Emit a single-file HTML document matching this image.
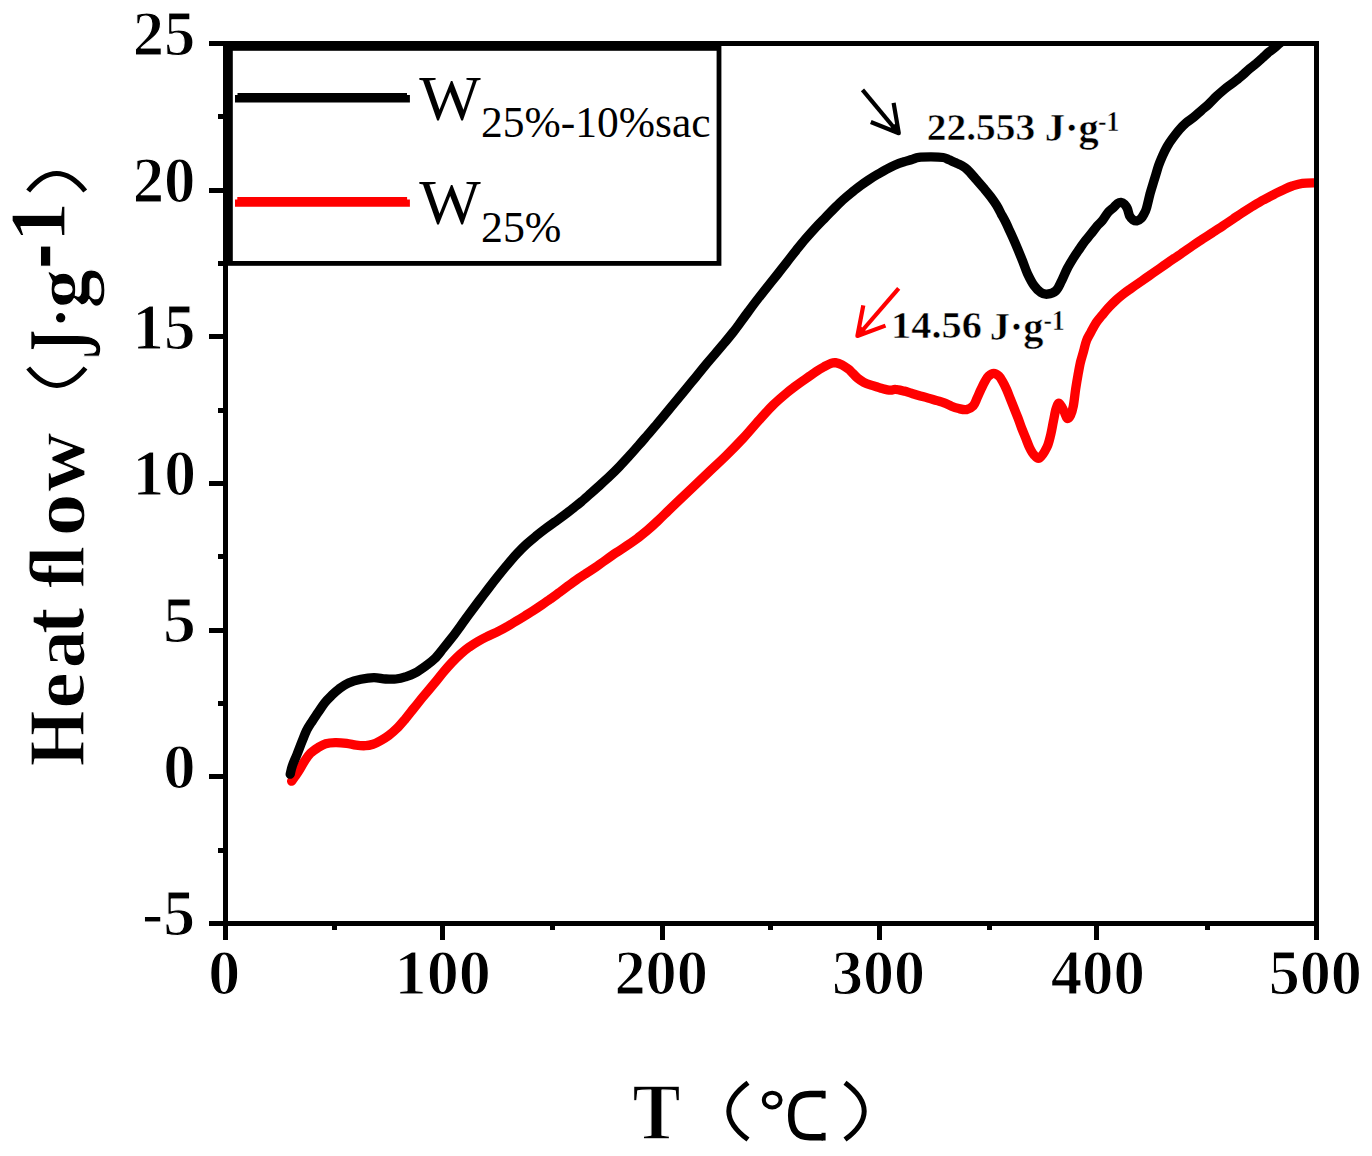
<!DOCTYPE html>
<html><head><meta charset="utf-8"><title>Heat flow chart</title>
<style>
html,body{margin:0;padding:0;background:#fff;width:1372px;height:1156px;overflow:hidden;}
svg{display:block;}
text{font-family:"Liberation Serif",serif;}
</style></head>
<body>
<svg width="1372" height="1156" viewBox="0 0 1372 1156">
<rect width="1372" height="1156" fill="#fff"/>
<clipPath id="pc"><rect x="228" y="46" width="1086" height="875"/></clipPath>
<path d="M291.6 781.2 C292.2 780.4 293.8 778.3 295.0 776.5 C296.2 774.7 297.4 773.1 299.0 770.5 C300.6 767.9 302.8 763.8 304.7 760.9 C306.6 758.0 308.2 755.5 310.4 753.3 C312.6 751.1 315.6 749.2 318.1 747.6 C320.7 746.0 322.9 744.5 325.7 743.7 C328.5 742.9 331.7 742.7 335.2 742.6 C338.7 742.5 343.1 742.9 346.6 743.3 C350.1 743.7 352.9 744.8 356.1 745.2 C359.3 745.6 362.8 745.9 365.6 745.7 C368.4 745.6 370.5 745.1 373.0 744.3 C375.5 743.5 377.8 742.2 380.4 740.7 C383.0 739.2 385.9 737.6 388.7 735.5 C391.5 733.4 394.2 731.1 397.0 728.3 C399.8 725.5 402.5 722.2 405.3 718.9 C408.1 715.6 410.8 712.0 413.6 708.5 C416.4 705.0 418.4 702.5 421.9 698.2 C425.4 694.0 431.0 687.3 434.6 683.0 C438.2 678.7 440.4 675.6 443.3 672.2 C446.2 668.8 449.0 665.6 451.9 662.5 C454.8 659.5 457.7 656.6 460.6 654.0 C463.5 651.5 466.3 649.2 469.2 647.1 C472.1 645.1 475.0 643.2 477.9 641.5 C480.8 639.8 483.0 638.6 486.5 636.9 C490.0 635.1 495.2 632.9 498.7 631.1 C502.2 629.4 504.4 628.2 507.3 626.5 C510.2 624.9 513.1 623.0 516.0 621.3 C518.9 619.6 521.7 617.9 524.6 616.1 C527.5 614.3 530.4 612.6 533.3 610.7 C536.2 608.8 539.0 606.9 541.9 604.9 C544.8 602.9 547.7 600.9 550.6 598.8 C553.5 596.8 556.3 594.7 559.2 592.6 C562.1 590.4 565.0 588.2 567.9 586.0 C570.8 583.9 573.6 581.8 576.5 579.8 C579.4 577.8 582.1 576.1 585.2 574.0 C588.4 572.0 592.0 569.7 595.4 567.4 C598.8 565.0 602.3 562.4 605.8 560.0 C609.3 557.5 612.8 555.0 616.2 552.7 C619.7 550.3 623.0 548.3 626.5 545.9 C630.0 543.6 633.4 541.2 636.9 538.7 C640.4 536.1 643.8 533.3 647.3 530.4 C650.8 527.4 654.2 524.3 657.7 521.0 C661.2 517.8 664.6 514.3 668.1 510.9 C671.6 507.5 674.6 504.6 678.5 500.8 C682.4 497.1 686.6 493.2 691.7 488.4 C696.8 483.6 703.2 477.4 709.0 471.9 C714.8 466.4 720.5 461.2 726.3 455.5 C732.1 449.8 737.8 444.0 743.6 437.8 C749.4 431.5 756.0 423.5 760.9 418.1 C765.8 412.6 768.6 409.4 773.0 405.1 C777.4 400.9 783.7 395.5 787.3 392.5 C790.9 389.4 792.2 388.6 794.6 386.8 C797.0 385.0 799.5 383.2 801.9 381.5 C804.3 379.8 806.8 378.1 809.2 376.4 C811.6 374.7 814.0 372.9 816.4 371.3 C818.8 369.7 821.3 368.3 823.7 367.0 C826.1 365.7 829.0 364.0 831.0 363.3 C833.0 362.6 833.6 362.4 835.4 362.6 C837.2 362.9 839.8 363.7 842.0 364.8 C844.2 365.9 846.7 367.8 848.5 369.2 C850.3 370.6 851.4 372.1 852.9 373.5 C854.4 374.9 855.5 376.4 857.3 377.9 C859.1 379.4 861.5 381.1 863.8 382.3 C866.1 383.5 868.7 384.4 871.1 385.2 C873.5 386.0 876.5 386.8 878.4 387.4 C880.3 388.0 880.3 388.1 882.3 388.6 C884.3 389.1 888.1 390.1 890.3 390.2 C892.5 390.3 893.1 389.2 895.4 389.4 C897.7 389.5 901.5 390.5 904.2 391.1 C906.9 391.8 909.0 392.6 911.4 393.3 C913.8 394.0 915.9 394.7 918.7 395.5 C921.5 396.3 925.2 397.2 928.2 398.1 C931.2 399.0 934.3 399.8 937.0 400.6 C939.7 401.4 941.8 401.9 944.2 402.8 C946.6 403.7 949.1 405.2 951.5 406.2 C953.9 407.2 956.3 408.0 958.8 408.6 C961.3 409.2 964.1 410.1 966.5 409.6 C968.9 409.1 971.5 407.6 973.3 405.7 C975.1 403.8 975.8 400.8 977.1 398.1 C978.4 395.4 979.6 392.2 980.9 389.5 C982.2 386.8 983.4 384.1 984.7 381.9 C986.0 379.7 987.0 377.6 988.5 376.2 C990.0 374.8 992.0 373.3 993.8 373.3 C995.5 373.3 997.5 374.8 999.0 376.2 C1000.5 377.6 1001.5 379.7 1002.8 381.9 C1004.1 384.1 1005.3 386.6 1006.6 389.5 C1007.9 392.4 1009.1 395.8 1010.4 399.0 C1011.7 402.2 1012.9 405.3 1014.2 408.5 C1015.5 411.7 1016.7 414.7 1018.0 418.0 C1019.3 421.3 1020.5 425.2 1021.8 428.5 C1023.1 431.8 1024.4 434.8 1025.7 438.0 C1027.0 441.2 1028.1 444.6 1029.5 447.5 C1030.9 450.4 1032.5 453.4 1034.2 455.1 C1035.9 456.9 1037.4 459.3 1039.5 458.0 C1041.6 456.7 1045.0 451.2 1046.9 447.3 C1048.8 443.4 1049.7 438.6 1050.8 434.3 C1051.9 430.0 1052.5 425.5 1053.4 421.3 C1054.3 417.1 1055.0 412.0 1056.0 409.0 C1057.0 406.0 1057.9 402.9 1059.2 403.2 C1060.5 403.5 1062.5 408.4 1063.8 410.9 C1065.1 413.4 1065.9 417.4 1067.0 418.2 C1068.1 419.0 1069.5 417.5 1070.5 415.5 C1071.5 413.5 1072.4 410.6 1073.3 406.1 C1074.2 401.7 1074.9 394.0 1075.7 388.8 C1076.5 383.6 1077.2 379.4 1078.0 375.0 C1078.8 370.6 1079.5 366.5 1080.4 362.5 C1081.4 358.5 1082.7 354.5 1083.7 350.8 C1084.7 347.1 1085.4 343.5 1086.6 340.4 C1087.8 337.3 1089.3 335.1 1090.9 332.1 C1092.5 329.1 1094.4 325.3 1096.2 322.6 C1098.0 319.9 1099.6 318.3 1101.7 315.7 C1103.8 313.2 1106.6 309.8 1109.0 307.2 C1111.4 304.6 1113.8 302.2 1116.2 300.0 C1118.6 297.8 1121.1 295.8 1123.5 293.9 C1125.9 292.0 1128.4 290.3 1130.8 288.6 C1133.2 286.9 1135.7 285.2 1138.1 283.5 C1140.5 281.8 1143.0 280.1 1145.4 278.4 C1147.8 276.7 1150.3 275.0 1152.7 273.3 C1155.1 271.6 1157.6 269.9 1160.0 268.2 C1162.4 266.5 1164.9 264.8 1167.3 263.1 C1169.7 261.4 1172.1 259.8 1174.5 258.2 C1176.9 256.5 1178.8 255.3 1181.8 253.2 C1184.8 251.2 1188.8 248.3 1192.2 246.0 C1195.6 243.6 1199.0 241.4 1202.4 239.1 C1205.8 236.9 1209.3 234.7 1212.7 232.5 C1216.1 230.2 1219.5 228.1 1222.9 225.8 C1226.3 223.6 1229.7 221.3 1233.1 219.0 C1236.5 216.7 1239.9 214.3 1243.3 212.1 C1246.7 209.9 1250.1 207.7 1253.5 205.7 C1256.9 203.7 1260.3 201.7 1263.7 199.8 C1267.1 198.0 1270.5 196.2 1273.9 194.5 C1277.3 192.8 1281.0 190.8 1284.1 189.4 C1287.1 188.0 1289.2 187.0 1292.2 186.0 C1295.2 185.0 1298.4 183.8 1302.4 183.3 C1306.4 182.8 1313.7 182.9 1316.0 182.8" fill="none" stroke="#f00" stroke-width="9.3" stroke-linejoin="round" stroke-linecap="round" clip-path="url(#pc)"/>
<path d="M290.2 774.2 C290.6 772.8 291.2 768.9 292.4 765.6 C293.5 762.3 295.5 758.2 297.1 754.2 C298.7 750.2 300.3 745.8 301.9 741.8 C303.5 737.8 304.9 733.9 306.6 730.4 C308.4 726.9 310.5 723.9 312.4 720.9 C314.3 717.9 316.1 715.4 318.1 712.4 C320.2 709.4 322.5 705.6 324.7 702.8 C326.9 700.0 329.0 698.0 331.4 695.7 C333.8 693.4 336.1 691.1 339.0 689.0 C341.9 686.9 344.9 684.6 348.5 683.0 C352.1 681.4 356.6 680.1 360.9 679.2 C365.1 678.3 369.9 677.6 374.0 677.6 C378.1 677.6 381.9 678.8 385.6 679.0 C389.3 679.2 392.7 679.4 396.0 679.0 C399.3 678.6 402.2 677.9 405.3 676.9 C408.4 675.9 411.2 675.1 414.7 673.2 C418.1 671.3 422.7 668.1 426.0 665.7 C429.3 663.3 431.7 661.7 434.6 658.8 C437.5 655.9 440.4 651.9 443.3 648.4 C446.2 644.9 449.0 641.4 451.9 637.7 C454.8 633.9 457.7 629.9 460.6 625.9 C463.5 622.0 466.2 618.1 469.2 614.0 C472.2 610.0 475.4 605.7 478.6 601.4 C481.8 597.2 485.1 592.8 488.3 588.6 C491.5 584.4 494.6 580.4 497.8 576.4 C501.0 572.4 504.2 568.4 507.4 564.7 C510.6 560.9 513.7 557.2 516.9 553.8 C520.1 550.4 523.2 547.2 526.4 544.3 C529.6 541.3 532.7 538.8 535.9 536.2 C539.1 533.6 542.2 531.2 545.4 528.8 C548.6 526.4 551.7 524.2 554.9 521.9 C558.1 519.6 561.2 517.4 564.4 515.0 C567.6 512.6 571.2 509.9 574.0 507.6 C576.8 505.4 578.6 504.0 581.4 501.6 C584.2 499.2 587.7 496.1 590.9 493.3 C594.1 490.5 597.2 487.6 600.4 484.7 C603.6 481.8 606.8 478.9 610.0 475.9 C613.2 472.8 616.3 469.7 619.5 466.4 C622.7 463.1 625.8 459.7 629.0 456.2 C632.2 452.7 635.3 449.1 638.5 445.5 C641.7 441.9 644.8 438.2 648.0 434.5 C651.2 430.8 654.3 427.3 657.5 423.4 C660.7 419.6 664.2 415.4 667.4 411.5 C670.6 407.5 673.7 403.7 676.9 399.9 C680.1 396.1 683.2 392.3 686.4 388.5 C689.6 384.7 692.7 380.7 695.9 376.9 C699.1 373.0 702.2 369.0 705.4 365.2 C708.6 361.4 711.8 357.7 715.0 354.0 C718.2 350.3 721.3 346.6 724.5 342.8 C727.7 339.0 731.6 334.1 734.0 331.1 C736.4 328.1 736.4 327.9 738.8 324.7 C741.2 321.4 745.1 315.9 748.3 311.6 C751.5 307.3 754.6 303.1 757.8 299.0 C761.0 294.9 764.2 290.8 767.4 286.8 C770.6 282.8 773.7 279.0 776.9 275.0 C780.1 270.9 783.2 266.9 786.4 262.8 C789.6 258.8 792.7 254.6 795.9 250.7 C799.1 246.7 802.2 242.7 805.4 239.0 C808.6 235.3 811.6 231.9 814.9 228.3 C818.2 224.7 822.2 220.7 825.4 217.4 C828.6 214.2 831.1 211.5 834.0 208.6 C836.9 205.7 839.8 202.7 842.7 200.1 C845.6 197.5 848.4 195.1 851.3 192.8 C854.2 190.4 857.1 188.2 860.0 186.0 C862.9 183.9 865.7 181.9 868.6 180.0 C871.5 178.1 874.4 176.3 877.3 174.6 C880.2 172.9 883.0 171.2 885.9 169.6 C888.8 168.1 891.7 166.6 894.6 165.3 C897.5 164.0 900.3 162.9 903.2 162.0 C906.1 161.0 909.3 160.3 911.9 159.5 C914.5 158.7 915.6 157.7 918.8 157.3 C922.0 156.9 927.0 156.9 931.0 156.9 C935.0 156.9 940.1 157.0 943.1 157.5 C946.1 158.0 947.1 159.0 949.1 159.8 C951.1 160.7 953.1 161.7 955.1 162.6 C957.1 163.5 959.2 164.2 961.2 165.3 C963.2 166.5 964.8 167.3 967.2 169.5 C969.6 171.7 972.7 175.5 975.4 178.6 C978.1 181.7 981.1 185.0 983.6 188.0 C986.1 191.0 988.4 193.7 990.6 196.6 C992.8 199.5 994.8 202.4 996.6 205.3 C998.4 208.2 999.7 211.0 1001.2 213.9 C1002.8 216.8 1004.5 219.8 1005.9 222.6 C1007.3 225.4 1008.3 228.0 1009.5 230.5 C1010.7 233.0 1011.5 234.7 1012.9 237.8 C1014.3 240.9 1016.2 245.3 1017.8 249.2 C1019.4 253.1 1021.1 257.3 1022.7 261.3 C1024.3 265.3 1025.5 269.4 1027.4 273.4 C1029.3 277.4 1031.8 282.4 1034.0 285.5 C1036.2 288.6 1038.5 290.9 1040.7 292.3 C1042.9 293.8 1044.8 294.4 1047.3 294.2 C1049.8 293.9 1053.5 293.0 1055.9 290.8 C1058.3 288.6 1059.7 284.6 1061.6 280.9 C1063.5 277.2 1065.2 272.5 1067.3 268.5 C1069.4 264.5 1072.0 260.4 1074.0 257.1 C1076.0 253.9 1077.7 251.6 1079.5 249.0 C1081.3 246.4 1082.8 244.0 1084.7 241.5 C1086.6 239.0 1088.6 236.8 1090.7 234.2 C1092.8 231.6 1095.2 228.2 1097.1 226.0 C1099.0 223.8 1100.3 223.2 1102.1 220.9 C1103.9 218.7 1106.1 214.7 1108.0 212.5 C1109.9 210.3 1111.9 209.1 1113.5 207.6 C1115.1 206.1 1116.2 204.4 1117.5 203.5 C1118.8 202.6 1119.8 202.2 1121.0 202.3 C1122.2 202.4 1123.5 203.2 1124.5 204.2 C1125.5 205.2 1126.4 206.5 1127.3 208.5 C1128.2 210.5 1128.8 214.3 1129.7 216.2 C1130.7 218.1 1131.8 219.0 1133.0 219.8 C1134.2 220.6 1135.6 221.1 1136.9 220.9 C1138.2 220.7 1139.8 219.7 1141.0 218.5 C1142.2 217.3 1143.1 215.7 1144.0 214.0 C1144.9 212.3 1145.4 211.8 1146.4 208.5 C1147.4 205.2 1148.9 198.2 1149.9 194.3 C1151.0 190.4 1151.7 188.0 1152.7 184.8 C1153.7 181.6 1154.7 178.3 1155.7 175.1 C1156.7 171.9 1157.5 168.8 1158.6 165.6 C1159.7 162.4 1161.0 159.3 1162.4 156.1 C1163.8 152.9 1165.4 149.6 1167.1 146.6 C1168.8 143.6 1170.7 140.8 1172.8 138.0 C1174.9 135.2 1177.3 132.0 1179.5 129.5 C1181.7 127.0 1183.8 124.9 1186.2 122.8 C1188.6 120.7 1191.3 119.2 1193.8 117.1 C1196.3 115.0 1198.9 112.6 1201.4 110.4 C1203.9 108.2 1206.5 106.2 1209.0 103.8 C1211.5 101.4 1214.1 98.6 1216.6 96.2 C1219.1 93.8 1221.7 91.6 1224.2 89.5 C1226.7 87.4 1229.4 85.6 1231.8 83.8 C1234.2 82.0 1236.6 80.0 1238.5 78.5 C1240.4 77.0 1241.2 76.2 1243.1 74.6 C1245.0 73.0 1247.5 70.5 1249.7 68.7 C1251.9 66.9 1254.0 65.3 1256.2 63.5 C1258.4 61.6 1260.6 59.6 1262.8 57.6 C1265.0 55.6 1267.2 53.5 1269.4 51.7 C1271.6 49.9 1273.8 48.4 1275.9 46.6 C1278.0 44.9 1279.7 43.1 1282.0 41.2 C1284.3 39.4 1288.7 36.5 1290.0 35.5" fill="none" stroke="#000" stroke-width="9.3" stroke-linejoin="round" stroke-linecap="round" clip-path="url(#pc)"/>
<rect x="223" y="41" width="5" height="899" fill="#000"/>
<rect x="1314" y="41" width="5" height="899" fill="#000"/>
<rect x="209" y="41" width="1110" height="5" fill="#000"/>
<rect x="209" y="921" width="1110" height="5" fill="#000"/>
<rect x="209" y="188.0" width="14" height="5" fill="#000"/>
<rect x="209" y="334.0" width="14" height="5" fill="#000"/>
<rect x="209" y="481.0" width="14" height="5" fill="#000"/>
<rect x="209" y="628.0" width="14" height="5" fill="#000"/>
<rect x="209" y="774.0" width="14" height="5" fill="#000"/>
<rect x="218" y="114.0" width="5" height="5" fill="#000"/>
<rect x="218" y="261.0" width="5" height="5" fill="#000"/>
<rect x="218" y="408.0" width="5" height="5" fill="#000"/>
<rect x="218" y="554.0" width="5" height="5" fill="#000"/>
<rect x="218" y="701.0" width="5" height="5" fill="#000"/>
<rect x="218" y="848.0" width="5" height="5" fill="#000"/>
<rect x="440.0" y="926" width="5" height="14" fill="#000"/>
<rect x="660.0" y="926" width="5" height="14" fill="#000"/>
<rect x="877.0" y="926" width="5" height="14" fill="#000"/>
<rect x="1094.0" y="926" width="5" height="14" fill="#000"/>
<rect x="332.0" y="926" width="5" height="4" fill="#000"/>
<rect x="550.0" y="926" width="5" height="4" fill="#000"/>
<rect x="768.0" y="926" width="5" height="4" fill="#000"/>
<rect x="987.0" y="926" width="5" height="4" fill="#000"/>
<rect x="1205.0" y="926" width="5" height="4" fill="#000"/>
<g><text transform="matrix(0.6262 0 0 0.6415 132.77 54.77)" font-family="Liberation Serif" font-weight="bold" font-size="100" fill="#000" stroke="#fff" stroke-width="1.893" stroke-linejoin="round">25</text><text transform="matrix(0.6283 0 0 0.6491 132.66 201.67)" font-family="Liberation Serif" font-weight="bold" font-size="100" fill="#000" stroke="#fff" stroke-width="1.879" stroke-linejoin="round">20</text><text transform="matrix(0.6295 0 0 0.6553 132.46 348.56)" font-family="Liberation Serif" font-weight="bold" font-size="100" fill="#000" stroke="#fff" stroke-width="1.868" stroke-linejoin="round">15</text><text transform="matrix(0.6362 0 0 0.6520 132.41 495.16)" font-family="Liberation Serif" font-weight="bold" font-size="100" fill="#000" stroke="#fff" stroke-width="1.863" stroke-linejoin="round">10</text><text transform="matrix(0.6590 0 0 0.6636 163.06 641.85)" font-family="Liberation Serif" font-weight="bold" font-size="100" fill="#000" stroke="#fff" stroke-width="1.815" stroke-linejoin="round">5</text><text transform="matrix(0.6465 0 0 0.6431 163.24 788.17)" font-family="Liberation Serif" font-weight="bold" font-size="100" fill="#000" stroke="#fff" stroke-width="1.861" stroke-linejoin="round">0</text><text transform="matrix(0.6384 0 0 0.6516 142.06 934.66)" font-family="Liberation Serif" font-weight="bold" font-size="100" fill="#000" stroke="#fff" stroke-width="1.861" stroke-linejoin="round">-5</text><text transform="matrix(0.6394 0 0 0.6431 208.26 993.67)" font-family="Liberation Serif" font-weight="bold" font-size="100" fill="#000" stroke="#fff" stroke-width="1.871" stroke-linejoin="round">0</text><text transform="matrix(0.6419 0 0 0.6417 394.56 993.67)" font-family="Liberation Serif" font-weight="bold" font-size="100" fill="#000" stroke="#fff" stroke-width="1.870" stroke-linejoin="round">100</text><text transform="matrix(0.6240 0 0 0.6417 614.38 993.67)" font-family="Liberation Serif" font-weight="bold" font-size="100" fill="#000" stroke="#fff" stroke-width="1.896" stroke-linejoin="round">200</text><text transform="matrix(0.6199 0 0 0.6417 832.07 993.67)" font-family="Liberation Serif" font-weight="bold" font-size="100" fill="#000" stroke="#fff" stroke-width="1.903" stroke-linejoin="round">300</text><text transform="matrix(0.6290 0 0 0.6417 1050.64 993.67)" font-family="Liberation Serif" font-weight="bold" font-size="100" fill="#000" stroke="#fff" stroke-width="1.889" stroke-linejoin="round">400</text><text transform="matrix(0.6217 0 0 0.6417 1268.71 993.67)" font-family="Liberation Serif" font-weight="bold" font-size="100" fill="#000" stroke="#fff" stroke-width="1.900" stroke-linejoin="round">500</text></g>
<rect x="230.4" y="48.4" width="488.6" height="215" fill="none" stroke="#000" stroke-width="4.8"/>
<path d="M235 95 H237.5 V93.1 H407 V95 H409.9 V102.4 H235 Z" fill="#000"/>
<path d="M235 199.4 H237.3 V196.9 H407.1 V199.5 H409.9 V206.8 H235 Z" fill="#f00"/>
<text transform="matrix(0.6515 0 0 0.6359 419.24 120.34)" font-family="Liberation Serif" font-weight="normal" font-size="100" fill="#000">W</text>
<text transform="matrix(0.4353 0 0 0.4497 480.99 137.11)" font-family="Liberation Serif" font-weight="normal" font-size="100" fill="#000">25%-10%sac</text>
<text transform="matrix(0.6515 0 0 0.6344 419.24 224.44)" font-family="Liberation Serif" font-weight="normal" font-size="100" fill="#000">W</text>
<text transform="matrix(0.4388 0 0 0.4527 480.97 241.50)" font-family="Liberation Serif" font-weight="normal" font-size="100" fill="#000">25%</text>
<text transform="matrix(0.3946 0 0 0.3889 926.79 139.70)" font-family="Liberation Serif" font-weight="bold" font-size="100" fill="#000" stroke="#fff" stroke-width="1.276" stroke-linejoin="round">22.553</text>
<text transform="matrix(0.4049 0 0 0.4101 1044.75 140.80)" font-family="Liberation Serif" font-weight="bold" font-size="100" fill="#000" stroke="#fff" stroke-width="1.227" stroke-linejoin="round">J·g</text>
<text transform="matrix(0.2565 0 0 0.2893 1098.01 130.85)" font-family="Liberation Serif" font-weight="bold" font-size="100" fill="#000" stroke="#fff" stroke-width="1.835" stroke-linejoin="round">-1</text>
<text transform="matrix(0.4036 0 0 0.3859 891.12 338.20)" font-family="Liberation Serif" font-weight="bold" font-size="100" fill="#000" stroke="#fff" stroke-width="1.267" stroke-linejoin="round">14.56</text>
<text transform="matrix(0.4033 0 0 0.4032 989.66 339.65)" font-family="Liberation Serif" font-weight="bold" font-size="100" fill="#000" stroke="#fff" stroke-width="1.240" stroke-linejoin="round">J·g</text>
<text transform="matrix(0.2538 0 0 0.2954 1043.62 330.15)" font-family="Liberation Serif" font-weight="bold" font-size="100" fill="#000" stroke="#fff" stroke-width="1.826" stroke-linejoin="round">-1</text>
<g fill="none" stroke="#000" stroke-width="4.2" stroke-linecap="butt" stroke-linejoin="round"><path d="M862.5 89.9 L898 132.5"/><path d="M893.6 102.8 L898.8 133.2 L870.8 122"/></g>
<path d="M899.3 134 L897.2 122 L888.5 129.5 Z" fill="#000"/>
<path d="M857 336.6 L859.3 325 L867.7 332.6 Z" fill="#f00"/>
<g fill="none" stroke="#f00" stroke-width="4.2" stroke-linecap="butt" stroke-linejoin="round"><path d="M898.7 288.4 L858 335.5"/><path d="M863.3 305.3 L857.4 336 L885.5 325.6"/></g>
<g transform="rotate(-90)"><text transform="matrix(0.7176 0 0 0.8110 -766.23 84.30)" font-family="Liberation Serif" font-weight="bold" font-size="100" fill="#000" stroke="#fff" stroke-width="1.573" stroke-linejoin="round">H</text><text transform="matrix(0.8234 0 0 0.7612 -708.71 83.59)" font-family="Liberation Serif" font-weight="bold" font-size="100" fill="#000" stroke="#fff" stroke-width="1.516" stroke-linejoin="round">e</text><text transform="matrix(0.7600 0 0 0.7620 -668.25 83.56)" font-family="Liberation Serif" font-weight="bold" font-size="100" fill="#000" stroke="#fff" stroke-width="1.577" stroke-linejoin="round">a</text><text transform="matrix(0.7936 0 0 0.8922 -633.88 83.43)" font-family="Liberation Serif" font-weight="bold" font-size="100" fill="#000" stroke="#fff" stroke-width="1.426" stroke-linejoin="round">t</text><text transform="matrix(0.7525 0 0 0.7897 -588.15 84.30)" font-family="Liberation Serif" font-weight="bold" font-size="100" fill="#000" stroke="#fff" stroke-width="1.557" stroke-linejoin="round">ﬂ</text><text transform="matrix(0.8612 0 0 0.7693 -536.48 83.65)" font-family="Liberation Serif" font-weight="bold" font-size="100" fill="#000" stroke="#fff" stroke-width="1.474" stroke-linejoin="round">o</text><text transform="matrix(0.8167 0 0 0.7893 -491.44 83.63)" font-family="Liberation Serif" font-weight="bold" font-size="100" fill="#000" stroke="#fff" stroke-width="1.495" stroke-linejoin="round">w</text><text transform="matrix(0.5838 0 0 1.0503 -358.79 100.07)" font-family="Liberation Serif" font-weight="bold" font-size="100" fill="#000" stroke="#fff" stroke-width="1.532" stroke-linejoin="round">J</text><text transform="matrix(0.6600 0 0 0.6600 -328.64 82.07)" font-family="Liberation Serif" font-weight="bold" font-size="100" fill="#000" stroke="#fff" stroke-width="1.818" stroke-linejoin="round">·</text><text transform="matrix(0.7890 0 0 0.7862 -308.48 88.05)" font-family="Liberation Serif" font-weight="bold" font-size="100" fill="#000" stroke="#fff" stroke-width="1.524" stroke-linejoin="round">g</text><text transform="matrix(0.7738 0 0 1.2712 -268.93 75.92)" font-family="Liberation Serif" font-weight="bold" font-size="100" fill="#000" stroke="#fff" stroke-width="1.210" stroke-linejoin="round">-</text><text transform="matrix(0.8013 0 0 0.8028 -241.92 65.30)" font-family="Liberation Serif" font-weight="bold" font-size="100" fill="#000" stroke="#fff" stroke-width="1.496" stroke-linejoin="round">1</text></g>
<path d="M28.2 368 Q56.85 402.8 85.5 368" fill="none" stroke="#000" stroke-width="5"/>
<path d="M28.2 191 Q56.6 156.2 85.2 191" fill="none" stroke="#000" stroke-width="5"/>
<text transform="matrix(0.7199 0 0 0.8110 632.48 1138.80)" font-family="Liberation Serif" font-weight="bold" font-size="100" fill="#000" stroke="#fff" stroke-width="1.571" stroke-linejoin="round">T</text>
<path d="M748 1082.8 Q709.6 1111.2 748 1139.6" fill="none" stroke="#000" stroke-width="5"/>
<path d="M845 1082.8 Q883.4 1111.2 845 1139.6" fill="none" stroke="#000" stroke-width="5"/>
<ellipse cx="772.2" cy="1100.1" rx="8.4" ry="7.4" fill="none" stroke="#000" stroke-width="4"/>
<path d="M823 1094 L810 1094 C797 1094 791.2 1100 791.2 1115.6 C791.2 1131 797 1137.3 810 1137.3 L823 1137.3" fill="none" stroke="#000" stroke-width="6.5"/>
<rect x="821.5" y="1090.8" width="4.1" height="7.7" fill="#000"/><rect x="821.5" y="1132.8" width="4.1" height="7.7" fill="#000"/>
</svg>
</body></html>
